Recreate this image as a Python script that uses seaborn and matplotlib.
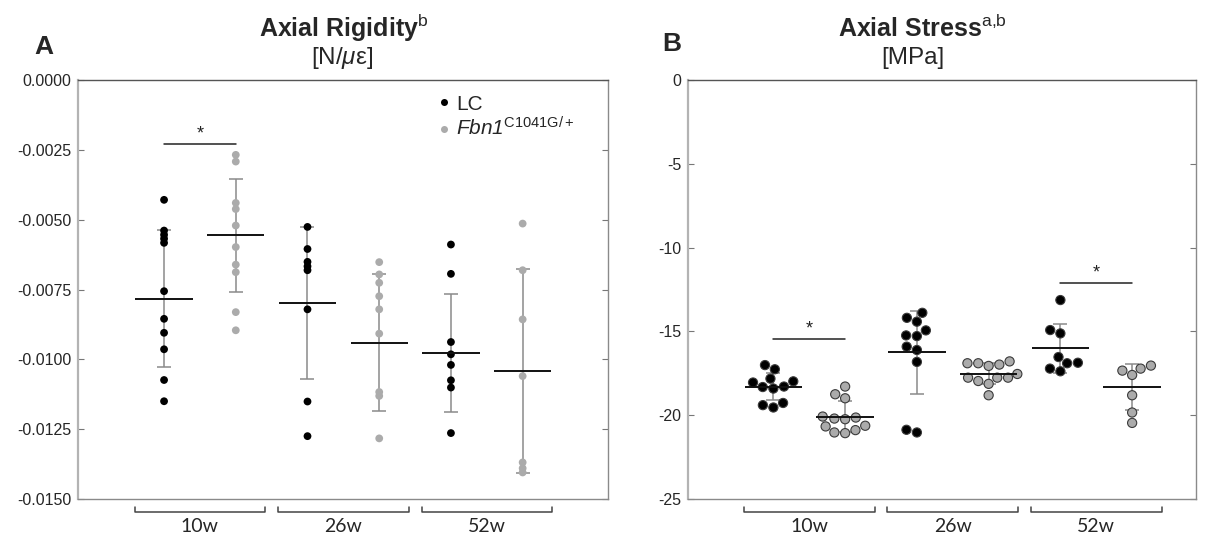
import matplotlib
matplotlib.use("Agg")
import matplotlib.pyplot as plt
import matplotlib.transforms as mtransforms
import numpy as np
import pandas as pd
import seaborn as sns

# ---- data ----
conds = ["10w LC", "10w Fbn", "26w LC", "26w Fbn", "52w LC", "52w Fbn"]
ages = ["10w", "26w", "52w"]

rig_lc_10 = [-0.00429, -0.00539, -0.00554, -0.00568, -0.00583, -0.00756, -0.00855, -0.00905, -0.00964, -0.01074, -0.01150]
rig_fbn_10 = [-0.00268, -0.00292, -0.00440, -0.00462, -0.00521, -0.00598, -0.00661, -0.00688, -0.00831, -0.00896]
rig_lc_26 = [-0.00526, -0.00605, -0.00651, -0.00667, -0.00681, -0.00821, -0.01151, -0.01275]
rig_fbn_26 = [-0.00652, -0.00696, -0.00726, -0.00774, -0.00821, -0.00908, -0.01117, -0.01131, -0.01283]
rig_lc_52 = [-0.00589, -0.00694, -0.00938, -0.00982, -0.01020, -0.01075, -0.01101, -0.01264]
rig_fbn_52 = [-0.00514, -0.00681, -0.00857, -0.01060, -0.01369, -0.01390, -0.01405]
rig_mean = [-0.00783, -0.00556, -0.00798, -0.00940, -0.00977, -0.01042]
rig_sd = [0.00246, 0.00202, 0.00272, 0.00245, 0.00212, 0.00366]

str_lc_10 = [-17.01, -17.26, -17.82, -17.98, -18.05, -18.29, -18.32, -18.41, -19.27, -19.40, -19.54]
str_fbn_10 = [-18.29, -18.75, -18.99, -20.08, -20.14, -20.20, -20.24, -20.63, -20.67, -20.89, -21.03, -21.07]
str_lc_26 = [-13.89, -14.19, -14.42, -14.94, -15.24, -15.28, -15.91, -16.11, -16.82, -20.87, -21.03]
str_fbn_26 = [-16.79, -16.90, -16.90, -16.98, -17.06, -17.54, -17.76, -17.76, -17.76, -17.96, -18.13, -18.81]
str_lc_52 = [-13.13, -14.92, -15.12, -16.53, -16.87, -16.90, -17.22, -17.38]
str_fbn_52 = [-17.04, -17.22, -17.34, -17.60, -18.81, -19.84, -20.46]
str_mean = [-18.31, -20.08, -16.25, -17.52, -16.01, -18.33]
str_sd = [0.80, 0.93, 2.48, 0.62, 1.46, 1.37]

rig_sig = [(0, 1, -0.00229)]
str_sig = [(0, 1, -15.48), (4, 5, -12.12)]


def to_df(groups):
    rows = []
    for cond, vals in zip(conds, groups):
        for v in vals:
            rows.append({"cond": cond, "geno": cond.split()[1], "value": v})
    return pd.DataFrame(rows)


rig = to_df([rig_lc_10, rig_fbn_10, rig_lc_26, rig_fbn_26, rig_lc_52, rig_fbn_52])
stress = to_df([str_lc_10, str_fbn_10, str_lc_26, str_fbn_26, str_lc_52, str_fbn_52])

sns.set_theme(style="white")
plt.rcParams["font.family"] = ["Liberation Sans", "DejaVu Sans"]
plt.rcParams["mathtext.fontset"] = "custom"
plt.rcParams["mathtext.rm"] = "Liberation Sans"
plt.rcParams["mathtext.it"] = "Liberation Sans:italic"
plt.rcParams["mathtext.bf"] = "Liberation Sans:bold"
plt.rcParams["axes.unicode_minus"] = False

W, H = 1219, 537
fig = plt.figure(figsize=(W / 100, H / 100), dpi=100)
ax1 = fig.add_axes([78 / W, 1 - 499 / H, 530 / W, 419 / H])
ax2 = fig.add_axes([688 / W, 1 - 499 / H, 508 / W, 419 / H])

pal = {"LC": "black", "Fbn": "#ababab"}

sns.stripplot(data=rig, x="cond", y="value", hue="geno", order=conds, palette=pal,
              jitter=False, size=5.6, linewidth=0, ax=ax1, zorder=3)
sns.swarmplot(data=stress, x="cond", y="value", hue="geno", order=conds, palette=pal,
              size=6.6, linewidth=0.8, edgecolor="#3a3a3a", ax=ax2, legend=False, zorder=3)

pos = np.arange(len(conds))
for ax, mean, sd in [(ax1, rig_mean, rig_sd), (ax2, str_mean, str_sd)]:
    ax.errorbar(pos, mean, yerr=sd, fmt="none", ecolor="#8a8a8a", elinewidth=1.1,
                capsize=5, capthick=1.1, zorder=2)
    ax.hlines(mean, pos - 0.4, pos + 0.4, color="#111111", lw=1.4, zorder=4)

ax1.set_ylim(-0.015, 0)
ax1.set_yticks(np.arange(-0.015, 0.0001, 0.0025))
ax1.set_yticklabels([f"{t:.4f}" for t in np.arange(-0.015, 0.0001, 0.0025)])
ax1.set_xlim(-1.2, 6.19)
ax2.set_ylim(-25, 0)
ax2.set_yticks(np.arange(-25, 1, 5))
ax2.set_xlim(-1.19, 5.89)

for ax, sigs, yr in [(ax1, rig_sig, 0.015), (ax2, str_sig, 25)]:
    ax.set_xlabel("")
    ax.set_ylabel("")
    ax.set_xticks([])
    ax.tick_params(axis="y", direction="in", length=4, width=0.8, color="#777777",
                   right=True, left=True, labelsize=11.5, pad=5)
    ax.spines["left"].set_color("#b3b3b3")
    ax.spines["left"].set_linewidth(1.6)
    ax.spines["top"].set_color("#555555")
    for s in ["right", "bottom"]:
        ax.spines[s].set_color("#8a8a8a")
    for s in ["top", "right", "bottom"]:
        ax.spines[s].set_linewidth(1.0)
    # significance bars
    for a, b, y in sigs:
        ax.plot([a, b], [y, y], color="#222222", lw=1.1)
        ax.text((a + b) / 2, y + yr * 0.004, "*", ha="center", va="bottom", fontsize=13,
                color="#222222")
    # age brackets under the axis
    trans = mtransforms.blended_transform_factory(ax.transData, ax.transAxes)
    for i, age in enumerate(ages):
        x0, x1 = 2 * i - 0.41, 2 * i + 1.41
        ax.plot([x0, x0, x1, x1], [-0.018, -0.031, -0.031, -0.018], color="#444444",
                lw=1.1, transform=trans, clip_on=False)
        ax.text(2 * i + 0.5, -0.065, age, transform=trans, ha="center", va="center",
                fontsize=14, family="Lato")

handles, _ = ax1.get_legend_handles_labels()
leg = ax1.legend(handles, ["LC", r"Fbn1$^{\mathrm{C1041G/+}}$"], loc="upper left",
                 bbox_to_anchor=(0.655, 0.985), frameon=False, fontsize=15, handletextpad=0.1,
                 labelspacing=0.15, handlelength=1.0, borderaxespad=0, markerscale=0.9)
leg.get_texts()[1].set_fontstyle("italic")

# titles and panel letters
fig.text(344 / W, 1 - 37 / H, r"Axial Rigidity$^{\mathrm{b}}$", ha="center", va="baseline",
         fontsize=18, fontweight="bold")
fig.text(342 / W, 1 - 64 / H, r"[N/$\mathit{\mu}$ε]", ha="center", va="baseline", fontsize=17.5)
fig.text(922 / W, 1 - 37 / H, r"Axial Stress$^{\mathrm{a{,}b}}$", ha="center", va="baseline",
         fontsize=18, fontweight="bold")
fig.text(913 / W, 1 - 64 / H, "[MPa]", ha="center", va="baseline", fontsize=17.5)
fig.text(44 / W, 1 - 54 / H, "A", ha="center", va="baseline", fontsize=19, fontweight="bold")
fig.text(672 / W, 1 - 51 / H, "B", ha="center", va="baseline", fontsize=19, fontweight="bold")

fig.savefig("out.png", dpi=100)
